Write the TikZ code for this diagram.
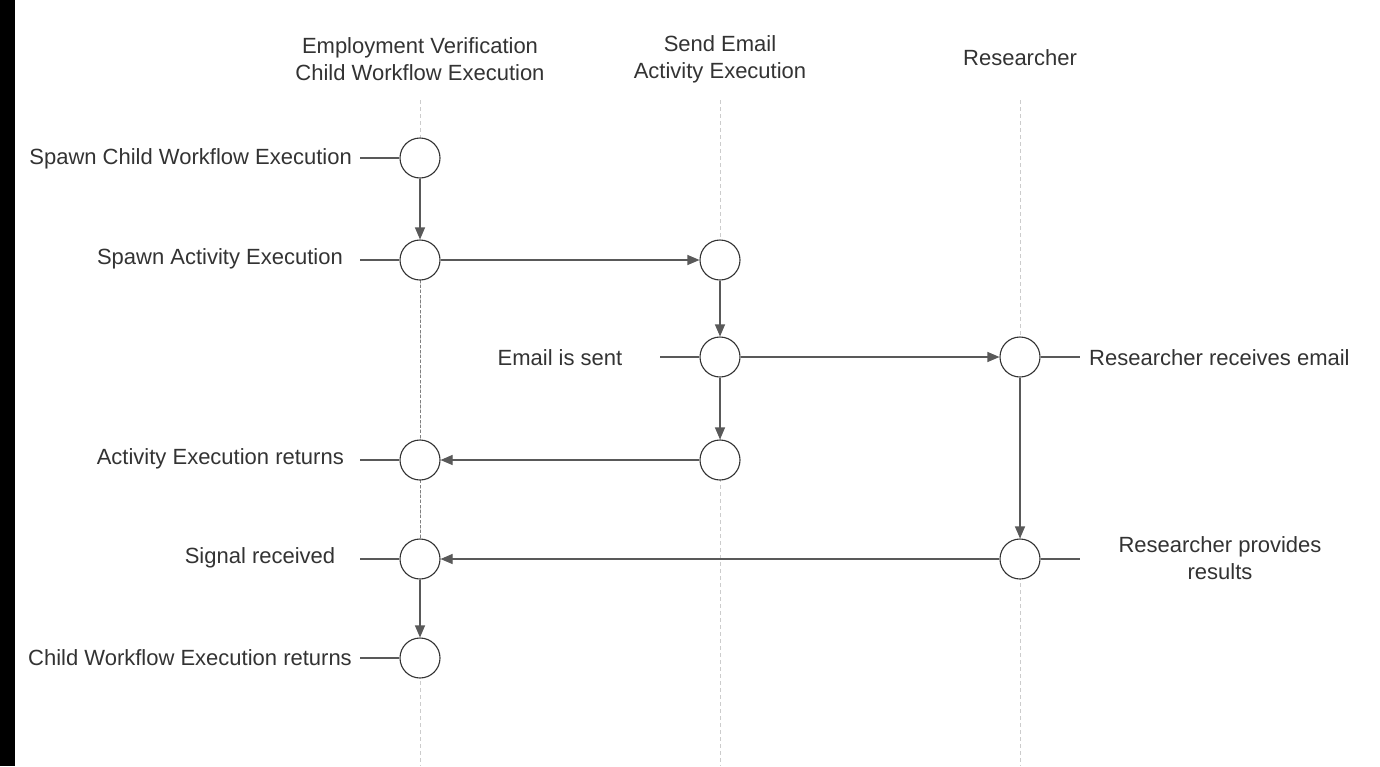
\documentclass[tikz,border=0pt]{standalone}
\usepackage{fontspec}
\setmainfont{Liberation Sans}
\usetikzlibrary{arrows.meta}
\definecolor{txt}{HTML}{333333}
\definecolor{ln}{HTML}{595959}
\definecolor{life}{HTML}{CCCCCC}
\begin{document}
\begin{tikzpicture}[x=1pt,y=-1pt,
  ev/.style={circle,draw=txt,line width=1.1pt,fill=white,minimum size=40pt,inner sep=0pt},
  lbl/.style={font=\fontsize{22}{27}\selectfont,text=txt,inner sep=0pt,align=center},
  conn/.style={draw=ln,line width=1.1pt,-{Triangle[length=12pt,width=10pt]}},
  stub/.style={draw=ln,line width=1.1pt},
  lifeline/.style={draw=life,line width=1pt,dash pattern=on 4pt off 3pt}]
\useasboundingbox (0,0) rectangle (1380,766);
\fill[white] (0,0) rectangle (1380,766);
\fill[black] (0,0) rectangle (15,766);
% headers
\node[lbl] (h1) at (420,59) {Employment Verification\\Child Workflow Execution};
\node[lbl] (h2) at (720,59) {Send Email\\Activity Execution};
\node[lbl] (h3) at (1020,58) {Researcher};
% lifelines
\coordinate (l1t) at (420,100); \coordinate (l1b) at (420,766);
\coordinate (l2t) at (720,100); \coordinate (l2b) at (720,766);
\coordinate (l3t) at (1020,100); \coordinate (l3b) at (1020,766);
\draw[lifeline] (l1t) -- (l1b);
\draw[lifeline] (l2t) -- (l2b);
\draw[lifeline] (l3t) -- (l3b);
\coordinate (d1) at (420,280); \coordinate (d2) at (420,540);
\draw[draw=gray,line width=1pt,dash pattern=on 3pt off 2pt] (d1) -- (d2);
% events
\node[ev] (a1) at (420,158) {};
\node[ev] (a2) at (420,260) {};
\node[ev] (a4) at (420,460) {};
\node[ev] (a5) at (420,559) {};
\node[ev] (a6) at (420,658) {};
\node[ev] (b2) at (720,260) {};
\node[ev] (b3) at (720,357) {};
\node[ev] (b4) at (720,460) {};
\node[ev] (c3) at (1020,357) {};
\node[ev] (c5) at (1020,559) {};
% labels
\node[lbl,anchor=east] (t1) at (352,159) {Spawn Child Workflow Execution};
\node[lbl,anchor=east] (t2) at (343,259) {Spawn Activity Execution};
\node[lbl] (t3) at (560,358) {Email is sent};
\node[lbl,anchor=west] (t3r) at (1089,358) {Researcher receives email};
\node[lbl,anchor=east] (t4) at (344,459) {Activity Execution returns};
\node[lbl] (t5) at (260,558) {Signal received};
\node[lbl] (t5r) at (1220,558) {Researcher provides\\results};
\node[lbl,anchor=east] (t6) at (352,658) {Child Workflow Execution returns};
% stubs
\coordinate (s1) at (360,158); \draw[stub] (s1) -- (a1.west);
\coordinate (s2) at (360,260); \draw[stub] (s2) -- (a2.west);
\coordinate (s3) at (660,357); \draw[stub] (s3) -- (b3.west);
\coordinate (s3r) at (1080,357); \draw[stub] (c3.east) -- (s3r);
\coordinate (s4) at (360,460); \draw[stub] (s4) -- (a4.west);
\coordinate (s5) at (360,559); \draw[stub] (s5) -- (a5.west);
\coordinate (s5r) at (1080,559); \draw[stub] (c5.east) -- (s5r);
\coordinate (s6) at (360,658); \draw[stub] (s6) -- (a6.west);
% messages
\draw[conn] (a1) -- (a2);
\draw[conn] (a2) -- (b2);
\draw[conn] (b2) -- (b3);
\draw[conn] (b3) -- (c3);
\draw[conn] (b3) -- (b4);
\draw[conn] (b4) -- (a4);
\draw[conn] (c3) -- (c5);
\draw[conn] (c5) -- (a5);
\draw[conn] (a5) -- (a6);
\end{tikzpicture}
\end{document}
